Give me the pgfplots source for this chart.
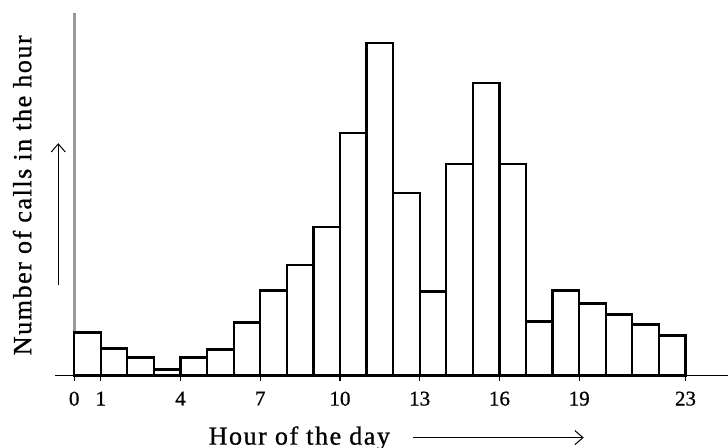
\documentclass[border=0pt]{standalone}
\usepackage{fontspec}
\setmainfont{Liberation Serif}[FakeBold=0.8]
\newfontfamily\spaced[LetterSpace=6,FakeBold=0.8]{Liberation Serif}
\usepackage{pgfplots}
\pgfplotsset{compat=1.18}
\usetikzlibrary{arrows.meta}

\begin{document}
\begin{tikzpicture}
\begin{axis}[
    scale only axis,
    width=336pt, height=181pt,
    xmin=-0.72, xmax=24.6,
    ymin=0, ymax=362,
    axis lines=middle,
    axis line style={-},
    x axis line style={black, line width=0.6pt},
    y axis line style={black!40, line width=1.4pt},
    xtick={0,1,4,7,10,13,16,19,23},
    ytick=\empty,
    hide obscured x ticks=false,
    tick align=outside,
    major tick length=2.5pt,
    xtick style={black, line width=0.6pt},
    xticklabel style={font=\fontsize{10.5}{12}\selectfont, yshift=-2pt},
    /pgf/number format/assume math mode=true,
    clip=false,
]
% calls per hour (arbitrary units)
\addplot[ybar interval, fill=white, draw=black, line width=1.1pt] coordinates {
    (0,43) (1,27) (2,18) (3,6) (4,18) (5,26) (6,53) (7,85)
    (8,110) (9,148) (10,242) (11,332) (12,182) (13,84) (14,211)
    (15,292) (16,211) (17,54) (18,85) (19,72) (20,61) (21,51)
    (22,40) (23,40)
};

\node[rotate=90, font=\fontsize{13}{15}\spaced] at (axis cs:-1.96,180) {Number of calls in the hour};
\node[anchor=base, font=\fontsize{13}{15}\spaced] at (axis cs:8.47,-69) {Hour of the day};
\draw[-{Straight Barb[length=4pt,width=7pt]}, line width=0.5pt] (axis cs:12.73,-62) -- (axis cs:19.17,-62);
\draw[-{Straight Barb[length=4pt,width=7pt]}, line width=0.5pt] (axis cs:-0.6,90) -- (axis cs:-0.6,232);
\end{axis}
\pgfresetboundingbox
\path ([xshift=-27.5pt,yshift=-36pt]current axis.south west) rectangle ([yshift=6.5pt]current axis.north east);
\end{tikzpicture}
\end{document}
